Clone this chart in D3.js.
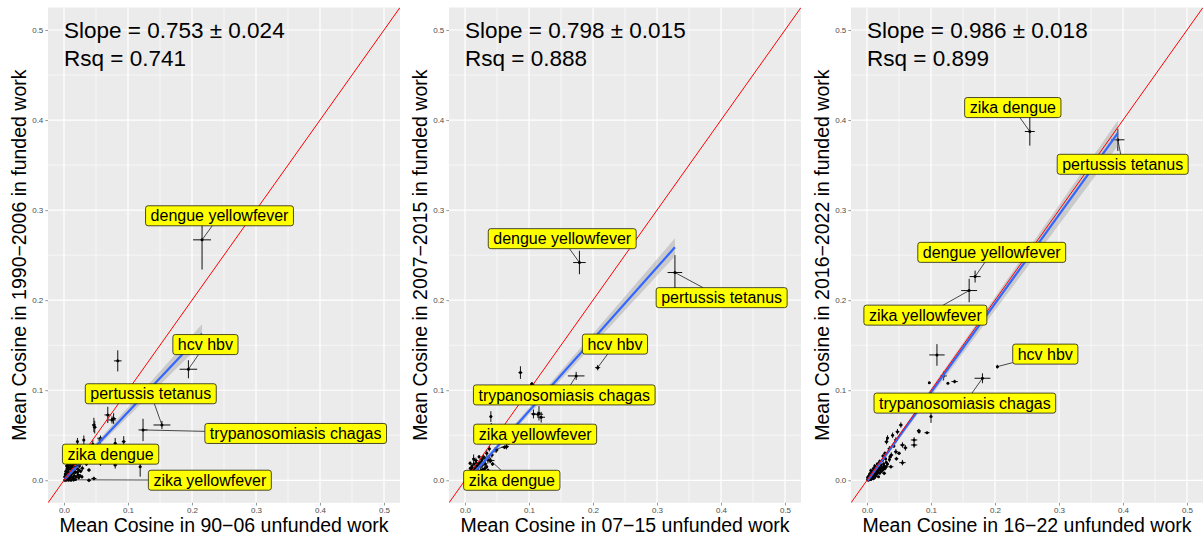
<!DOCTYPE html>
<html>
<head>
<meta charset="utf-8">
<script src="https://cdn.jsdelivr.net/npm/d3@7"></script>
<style>
  body { margin: 0; background: #fff; }
  svg { display: block; font-family: "Liberation Sans", Arial, Helvetica, sans-serif; }
</style>
</head>
<body>
<svg id="chart" width="1203" height="539"></svg>
<script>
// funded vs unfunded mean cosine, three periods

const X_TITLES = ["Mean Cosine in 90\u221206 unfunded work", "Mean Cosine in 07\u221215 unfunded work", "Mean Cosine in 16\u221222 unfunded work"];
const Y_TITLES = ["Mean Cosine in 1990\u22122006 in funded work", "Mean Cosine in 2007\u22122015 in funded work", "Mean Cosine in 2016\u22122022 in funded work"];
const SLOPES = [0.753, 0.798, 0.986];
const SLOPE_SE = [0.024, 0.015, 0.018];
const INTERCEPTS = [0.0005, -0.003, -0.001];
const RSQ = [0.741, 0.888, 0.899];
const TICKS = [0, 0.1, 0.2, 0.3, 0.4, 0.5];
const MINOR = [0.05, 0.15, 0.25, 0.35, 0.45];

// [x, y, xerr, yerr]
const points1 = [
  [.084,.1326,.006,.0117],[.0684,.0726,.005,.009],[.075,.067,.006,.004],[.0775,.0685,.004,.006],
  [.0467,.0614,.003,.008],[.048,.059,.003,.007],[.057,.0467,.005,.003],[.0933,.043,.003,.006],
  [.080,.041,.002,.006],[.031,.0448,.002,.005],[.021,.043,.001,.004],[.057,.0448,.004,.004],
  [.045,.040,.002,.005],[.119,.015,.002,.011],[.080,.017,.003,.004],[.057,.019,.003,.003],
  [.039,.0114,.003,.002],[.0467,.002,.004,.002],[.039,.0,.003,.002],[.0286,.0133,.003,.003],
  [.023,.0114,.002,.003],[.0338,.0337,.002,.003],[.027,.022,.002,.003],[.035,.018,.002,.002],
  [.002,.001,.001,.001],[.004,.003,.001,.001],[.006,.002,.001,.002],[.003,.006,.001,.001],
  [.008,.005,.002,.002],[.010,.003,.001,.002],[.005,.009,.002,.002],[.012,.008,.002,.002],
  [.007,.012,.001,.003],[.014,.011,.002,.002],[.016,.005,.002,.002],[.010,.014,.002,.003],
  [.018,.009,.002,.002],[.013,.016,.002,.002],[.020,.013,.002,.002],[.009,.017,.001,.002],
  [.022,.006,.002,.002],[.015,.002,.002,.001],[.024,.016,.002,.002],[.001,.004,.001,.001],
  [.017,.014,.001,.002],[.026,.010,.002,.002],[.011,.019,.001,.003],[.019,.018,.002,.002],
  [.006,.015,.001,.002],
  [.003,.010,.002,.003],[.005,.013,.002,.002],[.008,.008,.002,.003],[.011,.006,.002,.002],
  [.013,.003,.002,.002],[.016,.010,.002,.003],[.019,.004,.002,.002],[.021,.009,.002,.002],
  [.023,.003,.002,.002],[.004,.016,.001,.002],[.007,.018,.002,.002],[.015,.018,.002,.002],
  [.012,.012,.003,.003],[.009,.001,.002,.001],[.002,.007,.001,.002],[.018,.001,.002,.001],
  [.025,.005,.002,.002],[.028,.004,.002,.002],[.006,.005,.002,.002],[.014,.008,.002,.002],
  [.001,.0,.001,.001],[.003,.0,.001,.001],[.007,.0,.001,.001],[.011,.0,.002,.001]
];
const points2 = [
  [.0866,.1196,.003,.007],[.1053,.1067,.003,.002],[.1042,.107,.002,.002],[.114,.0733,.008,.003],
  [.1156,.0744,.002,.008],[.119,.070,.006,.006],[.107,.0737,.004,.005],[.0404,.0707,.002,.006],
  [.041,.0596,.002,.004],[.0617,.0367,.005,.002],[.0648,.0373,.004,.003],[.0493,.0337,.003,.003],
  [.042,.0281,.003,.003],[.0358,.0226,.002,.004],[.0264,.0233,.002,.003],[.0135,.0237,.002,.005],
  [.0213,.017,.002,.003],[.0316,.0181,.003,.003],[.0109,.0159,.002,.003],[.0083,.0133,.002,.002],
  [.034,.030,.002,.004],[.038,.035,.002,.003],
  [.012,.012,.002,.002],[.016,.014,.002,.002],[.020,.011,.002,.002],[.024,.015,.002,.002],
  [.028,.012,.002,.002],[.018,.019,.002,.002],[.030,.020,.002,.002],[.034,.015,.002,.002],
  [.026,.021,.002,.003],[.014,.018,.002,.002],[.037,.026,.002,.002],[.022,.026,.002,.002],
  [.032,.024,.002,.002],[.010,.011,.002,.002],[.006,.009,.002,.002],[.008,.019,.002,.002],
  [.036,.011,.002,.002],[.043,.018,.002,.002],
  [.015,.010,.003,.003],[.019,.016,.003,.003],[.023,.019,.003,.003],[.027,.017,.003,.003],
  [.031,.013,.003,.003],[.011,.014,.003,.003],[.017,.022,.003,.003],[.029,.026,.003,.003],
  [.039,.022,.004,.003],[.025,.011,.003,.003]
];
const points3 = [
  [.1093,.1392,.012,.012],[.1197,.1159,.005,.005],[.0974,.1084,.001,.001],[.1264,.1078,.001,.001],
  [.1369,.1096,.005,.002],[.100,.0707,.002,.007],[.0809,.0551,.003,.002],[.0938,.0529,.004,.001],
  [.0736,.0448,.005,.003],[.0736,.0392,.005,.003],[.0813,.054,.002,.002],[.0529,.0614,.003,.003],
  [.0476,.054,.003,.003],[.0305,.0429,.003,.003],[.0554,.0392,.004,.003],[.0554,.0196,.005,.003],
  [.0451,.0318,.003,.003],[.0451,.0448,.003,.003],[.0373,.0151,.004,.002],[.0269,.0078,.003,.002],
  [.040,.050,.002,.003],[.035,.035,.003,.003],[.042,.038,.002,.002],[.050,.030,.003,.002],
  [.032,.047,.002,.003],[.038,.028,.003,.003],[.060,.036,.003,.003],[.028,.030,.002,.002],
  [.046,.024,.003,.002],[.030,.020,.002,.002],[.035,.023,.002,.003],[.024,.022,.002,.002],
  [.003,.002,.001,.001],[.005,.004,.001,.001],[.007,.003,.001,.001],[.004,.007,.001,.002],
  [.009,.006,.002,.001],[.011,.004,.001,.001],[.008,.010,.001,.002],[.013,.009,.002,.002],
  [.010,.013,.001,.002],[.015,.012,.002,.002],[.017,.008,.002,.001],[.012,.016,.001,.002],
  [.019,.014,.002,.002],[.016,.018,.002,.002],[.021,.011,.002,.002],[.014,.005,.002,.001],
  [.006,.011,.001,.002],[.018,.004,.002,.001],[.022,.017,.002,.002],[.001,.003,.001,.001],
  [.020,.021,.002,.002],[.024,.014,.002,.002],[.026,.018,.002,.002],[.028,.013,.002,.002],
  [.002,.0,.001,.001],[.004,.001,.001,.001],[.006,.001,.002,.001],[.008,.002,.002,.001],
  [.010,.002,.002,.002],[.012,.003,.002,.002],[.002,.004,.001,.001],[.005,.006,.002,.002],
  [.007,.008,.002,.002],[.009,.009,.002,.002],[.011,.008,.002,.002],[.013,.006,.002,.002],
  [.015,.007,.002,.002],[.012,.011,.002,.002],[.014,.014,.002,.002],[.016,.010,.002,.002],
  [.018,.012,.002,.002],[.020,.008,.002,.002],[.023,.010,.002,.002],[.025,.012,.002,.002],
  [.017,.015,.002,.002],[.022,.014,.002,.002],[.019,.019,.002,.002],[.003,.005,.001,.001],
  [.001,.001,.001,.001],[.008,.005,.002,.002],[.027,.016,.002,.002],[.030,.015,.002,.002],
  [.032,.018,.002,.002],[.029,.024,.002,.002],[.025,.027,.002,.002],[.036,.026,.002,.002]
];

// labelled points: [name, x, y, xerr, yerr, labelX, labelY]
const labels1 = [
  ["dengue yellowfever", .2157, .267, .014, .033, .243, .2937],
  ["hcv hbv", .1944, .1233, .0137, .010, .221, .1507],
  ["pertussis tetanus", .153, .0614, .0132, .0045, .1356, .0961],
  ["trypanosomiasis chagas", .1235, .0559, .007, .0124, .362, .052],
  ["zika dengue", .012, .014, .003, .003, .0728, .029],
  ["zika yellowfever", .015, .0005, .004, .002, .2279, .0001]
];
const labels2 = [
  ["dengue yellowfever", .1788, .2418, .0098, .013, .1519, .2683],
  ["pertussis tetanus", .328, .2307, .0114, .0194, .401, .2028],
  ["hcv hbv", .2073, .1251, .004, .003, .2343, .1512],
  ["trypanosomiasis chagas", .1737, .1159, .013, .0045, .1551, .0948],
  ["zika yellowfever", .047, .0337, .003, .003, .1096, .0512],
  ["zika dengue", .04, .022, .006, .003, .0731, 0.0]
];
const labels3 = [
  ["zika dengue", .2544, .3873, .0078, .0157, .2278, .4139],
  ["pertussis tetanus", .3919, .3781, .0104, .0124, .3995, .3509],
  ["dengue yellowfever", .1689, .2262, .0086, .0066, .1949, .2531],
  ["zika yellowfever", .1596, .2107, .0124, .013, .0912, .1834],
  ["hcv hbv", .2037, .1262, .002, .002, .2786, .1401],
  ["trypanosomiasis chagas", .1804, .1133, .0124, .0055, .1529, .0857]
];

const ALL_POINTS = [points1, points2, points3];
const ALL_LABELS = [labels1, labels2, labels3];

const svg = d3.select('#chart');
const panelLefts = [48, 449, 851];
const panelW = 352;
const panelTop = 7.5, panelBottom = 502.8;
const fmt = d3.format('.3f');

svg.append('defs').selectAll('clipPath')
  .data(panelLefts)
  .enter()
  .append('clipPath')
  .attr('id', (d, i) => 'clip' + i)
  .append('rect')
  .attr('x', d => d).attr('y', panelTop)
  .attr('width', panelW).attr('height', panelBottom - panelTop);

panelLefts.forEach((left, i) => {
  const g = svg.append('g');
  const x = d3.scaleLinear().domain([-0.025, 0.525]).range([left, left + panelW]);
  const y = d3.scaleLinear().domain([-0.025, 0.525]).range([panelBottom, panelTop]);

  // panel background + grid
  g.append('rect')
    .attr('x', left).attr('y', panelTop)
    .attr('width', panelW).attr('height', panelBottom - panelTop)
    .attr('fill', '#EBEBEB');

  MINOR.forEach(v => {
    g.append('line').attr('x1', x(v)).attr('x2', x(v)).attr('y1', panelTop).attr('y2', panelBottom)
      .attr('stroke', '#fff').attr('stroke-width', 0.6);
    g.append('line').attr('y1', y(v)).attr('y2', y(v)).attr('x1', left).attr('x2', left + panelW)
      .attr('stroke', '#fff').attr('stroke-width', 0.6);
  });
  TICKS.forEach(v => {
    g.append('line').attr('x1', x(v)).attr('x2', x(v)).attr('y1', panelTop).attr('y2', panelBottom)
      .attr('stroke', '#fff').attr('stroke-width', 1.2);
    g.append('line').attr('y1', y(v)).attr('y2', y(v)).attr('x1', left).attr('x2', left + panelW)
      .attr('stroke', '#fff').attr('stroke-width', 1.2);
  });

  // axes
  const xAxis = g.append('g')
    .attr('transform', `translate(0,${panelBottom})`)
    .call(d3.axisBottom(x).tickValues(TICKS).tickFormat(d3.format('.1f')).tickSize(2.7).tickPadding(2));
  const yAxis = g.append('g')
    .attr('transform', `translate(${left},0)`)
    .call(d3.axisLeft(y).tickValues(TICKS).tickFormat(d3.format('.1f')).tickSize(2.7).tickPadding(2));
  [xAxis, yAxis].forEach(a => {
    a.select('.domain').remove();
    a.selectAll('line').attr('stroke', '#333').attr('stroke-width', 0.5);
    a.selectAll('text').attr('fill', '#4D4D4D').style('font-size', '8px')
      .style('font-family', '"Liberation Sans", Arial, sans-serif');
  });

  const pts = ALL_POINTS[i];
  const labs = ALL_LABELS[i];
  const allPts = pts.concat(labs.map(l => [l[1], l[2], l[3], l[4]]));

  const plot = g.append('g').attr('clip-path', `url(#clip${i})`);

  // error bars and points
  plot.selectAll('.eh').data(allPts).enter().append('line')
    .attr('x1', d => x(d[0] - d[2])).attr('x2', d => x(d[0] + d[2]))
    .attr('y1', d => y(d[1])).attr('y2', d => y(d[1]))
    .attr('stroke', '#111').attr('stroke-width', 1);
  plot.selectAll('.ev').data(allPts).enter().append('line')
    .attr('x1', d => x(d[0])).attr('x2', d => x(d[0]))
    .attr('y1', d => y(d[1] - d[3])).attr('y2', d => y(d[1] + d[3]))
    .attr('stroke', '#111').attr('stroke-width', 1);
  plot.selectAll('.pt').data(allPts).enter().append('circle')
    .attr('cx', d => x(d[0])).attr('cy', d => y(d[1]))
    .attr('r', 1.5).attr('fill', '#000');

  // linear fit with confidence band
  const xMin = d3.min(allPts, d => d[0]);
  const xMax = d3.max(allPts, d => d[0]);
  const fit = v => INTERCEPTS[i] + SLOPES[i] * v;
  const halfW = v => 1.96 * Math.sqrt(Math.pow(SLOPE_SE[i] * v, 2) + 0.0012 * 0.0012);
  const xs = d3.range(0, 61).map(k => xMin + (xMax - xMin) * k / 60);
  plot.append('path')
    .datum(xs)
    .attr('d', d3.area().x(v => x(v)).y0(v => y(fit(v) - halfW(v))).y1(v => y(fit(v) + halfW(v))))
    .attr('fill', '#999').attr('opacity', 0.4);
  plot.append('line')
    .attr('x1', x(xMin)).attr('y1', y(fit(xMin)))
    .attr('x2', x(xMax)).attr('y2', y(fit(xMax)))
    .attr('stroke', '#3366FF').attr('stroke-width', 2.2);

  // identity line
  plot.append('line')
    .attr('x1', x(-0.025)).attr('y1', y(-0.025))
    .attr('x2', x(0.525)).attr('y2', y(0.525))
    .attr('stroke', '#FF0000').attr('stroke-width', 1);

  // labels (segments first, then boxes)
  const segG = g.append('g');
  const boxG = g.append('g');
  labs.forEach(l => {
    const cx = x(l[5]), cy = y(l[6]);
    const px = x(l[1]), py = y(l[2]);
    const t = boxG.append('text')
      .attr('x', cx).attr('y', cy + 5.7)
      .attr('text-anchor', 'middle')
      .style('font-size', '16px')
      .attr('fill', '#000')
      .text(l[0]);
    const tw = t.node().getComputedTextLength();
    const bw = tw + 10, bh = 20;
    boxG.insert('rect', 'text')
      .attr('x', cx - bw / 2).attr('y', cy - bh / 2)
      .attr('width', bw).attr('height', bh)
      .attr('rx', 2.5)
      .attr('fill', '#FFFF00').attr('stroke', '#000').attr('stroke-width', 0.7);
    // segment from point to box border, toward the centre
    const dx = cx - px, dy = cy - py;
    const inside = Math.abs(dx) <= bw / 2 && Math.abs(dy) <= bh / 2;
    if (!inside) {
      const sx = dx === 0 ? -Infinity : (Math.abs(dx) - bw / 2) / Math.abs(dx);
      const sy = dy === 0 ? -Infinity : (Math.abs(dy) - bh / 2) / Math.abs(dy);
      let s = Math.max(sx, sy);
      s = Math.min(Math.max(s, 0), 1);
      segG.append('line')
        .attr('x1', px).attr('y1', py)
        .attr('x2', px + dx * s).attr('y2', py + dy * s)
        .attr('stroke', '#000').attr('stroke-width', 0.7);
    }
  });

  // stats annotation
  g.append('text')
    .attr('x', x(0)).attr('y', y(0.5) + 8)
    .style('font-size', '22.5px').attr('fill', '#000')
    .text(`Slope = ${fmt(SLOPES[i])} \u00b1 ${fmt(SLOPE_SE[i])}`);
  g.append('text')
    .attr('x', x(0)).attr('y', y(0.469) + 8)
    .style('font-size', '22.5px').attr('fill', '#000')
    .text(`Rsq = ${fmt(RSQ[i])}`);

  // axis titles
  g.append('text')
    .attr('x', left + panelW / 2).attr('y', 532)
    .attr('text-anchor', 'middle')
    .style('font-size', '19.5px')
    .text(X_TITLES[i]);
  g.append('text')
    .attr('transform', `translate(${left - 22.5},${(panelTop + panelBottom) / 2}) rotate(-90)`)
    .attr('text-anchor', 'middle')
    .style('font-size', '19.5px')
    .text(Y_TITLES[i]);
});
</script>
</body>
</html>
